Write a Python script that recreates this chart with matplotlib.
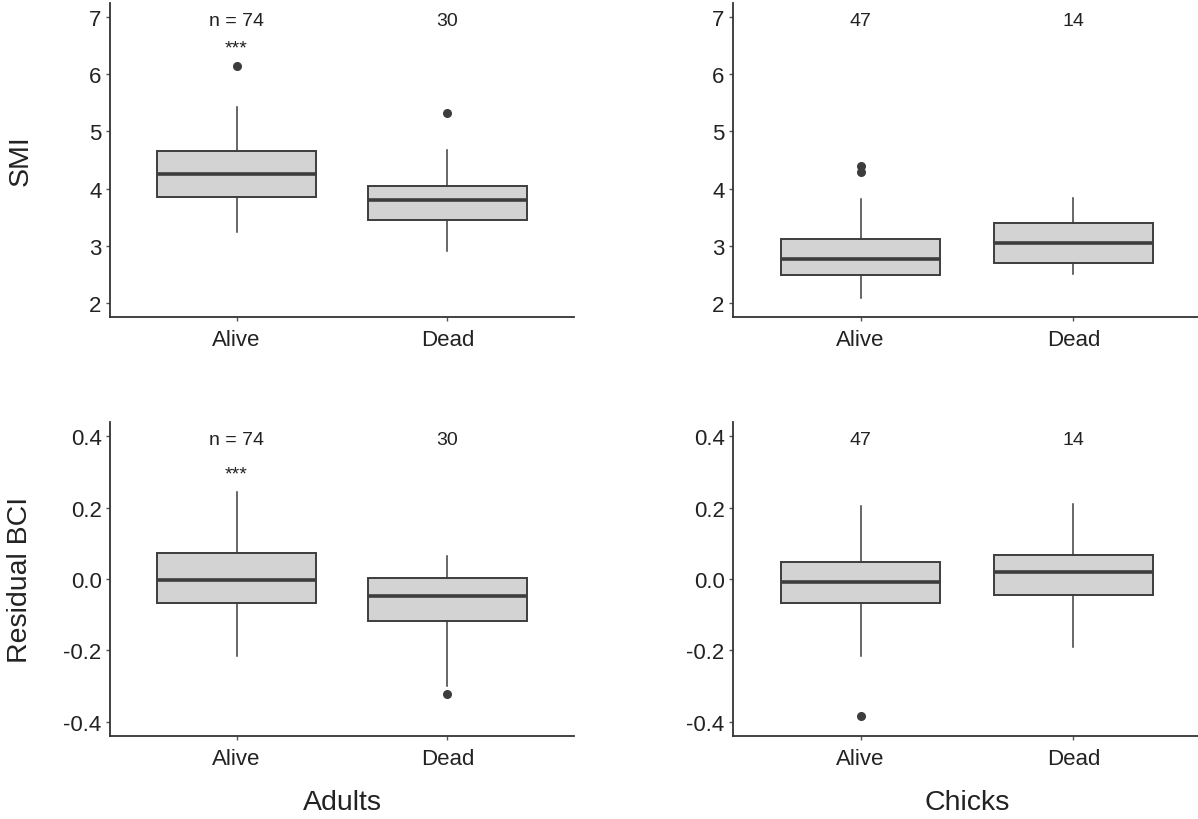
import matplotlib
matplotlib.use("Agg")
import matplotlib.pyplot as plt

plt.rcParams['font.family'] = ['Liberation Sans', 'DejaVu Sans']

groups = ["Alive", "Dead"]

# box summaries per group: whisker low, Q1, median, Q3, whisker high, outliers
smi_adults = {
    "Alive": [3.24, 3.86, 4.26, 4.66, 5.42, [6.14]],
    "Dead": [2.90, 3.45, 3.80, 4.05, 4.68, [5.32]],
}
smi_chicks = {
    "Alive": [2.08, 2.49, 2.77, 3.12, 3.81, [4.29, 4.40]],
    "Dead": [2.51, 2.70, 3.05, 3.40, 3.84, []],
}
bci_adults = {
    "Alive": [-0.216, -0.067, -0.003, 0.073, 0.244, []],
    "Dead": [-0.300, -0.118, -0.048, 0.003, 0.065, [-0.323]],
}
bci_chicks = {
    "Alive": [-0.216, -0.067, -0.008, 0.048, 0.205, [-0.385]],
    "Dead": [-0.190, -0.045, 0.020, 0.067, 0.210, []],
}

n_adults = ["n = 74", "30"]
n_chicks = ["47", "14"]

smi_ticks = [2, 3, 4, 5, 6, 7]
bci_ticks = [-0.4, -0.2, 0.0, 0.2, 0.4]

edge = "#3d3d3d"
txt = "#222222"


def draw_box(ax, summary, ylim, ticks, fmt):
    stats = []
    for g in groups:
        lo, q1, med, q3, hi, fl = summary[g]
        stats.append(dict(med=med, q1=q1, q3=q3, whislo=lo, whishi=hi,
                          fliers=fl, label=g))
    ax.bxp(stats, positions=[1, 2], widths=0.75, patch_artist=True,
           showcaps=False,
           boxprops=dict(facecolor="#d3d3d3", edgecolor=edge, linewidth=1.4),
           medianprops=dict(color=edge, linewidth=2.6),
           whiskerprops=dict(color=edge, linewidth=1.1),
           flierprops=dict(marker="o", markerfacecolor=edge, markeredgecolor=edge,
                           markersize=5.5))
    ax.set_xlim(0.4, 2.6)
    pad = (ylim[1] - ylim[0]) * 0.05
    ax.set_ylim(ylim[0] - pad, ylim[1] + pad)
    ax.set_yticks(ticks)
    ax.set_yticklabels([fmt.format(t) for t in ticks])
    ax.set_xticks([1, 2])
    ax.set_xticklabels(groups)
    for s in ["top", "right"]:
        ax.spines[s].set_visible(False)
    for s in ["left", "bottom"]:
        ax.spines[s].set_color("#333333")
        ax.spines[s].set_linewidth(1.3)
    ax.tick_params(axis="both", colors="#555555", labelcolor=txt, labelsize=16,
                   length=3, width=1)
    ax.tick_params(axis="x", pad=6)
    ax.tick_params(axis="y", pad=3)


fig = plt.figure(figsize=(11.98, 8.2), dpi=100)
W, H = 1198.0, 820.0


def add_ax(x0, y0, x1, y1):
    return fig.add_axes([x0 / W, 1 - y1 / H, (x1 - x0) / W, (y1 - y0) / H])


ax1 = add_ax(110, 4, 574, 318)
ax2 = add_ax(733, 4, 1201, 318)
ax3 = add_ax(110, 423, 574, 737)
ax4 = add_ax(733, 423, 1201, 737)

draw_box(ax1, smi_adults, (2, 7), smi_ticks, "{:g}")
draw_box(ax2, smi_chicks, (2, 7), smi_ticks, "{:g}")
draw_box(ax3, bci_adults, (-0.4, 0.4), bci_ticks, "{:.1f}")
draw_box(ax4, bci_chicks, (-0.4, 0.4), bci_ticks, "{:.1f}")

# sample sizes and significance stars
for ax, labels, ytop, ystar in [(ax1, n_adults, 6.95, 6.47), (ax2, n_chicks, 6.95, None),
                                (ax3, n_adults, 0.39, 0.295), (ax4, n_chicks, 0.39, None)]:
    for i, lab in enumerate(labels):
        ax.text(i + 1, ytop, lab, ha="center", va="center", fontsize=14, color=txt)
    if ystar is not None:
        ax.text(1, ystar, "***", ha="center", va="center", fontsize=14, color=txt)

for ax, lab in [(ax1, "SMI"), (ax3, "Residual BCI")]:
    ax.set_ylabel(lab, fontsize=20.5, color=txt)
    ax.yaxis.set_label_coords(-0.165, 0.5)

for ax, lab in [(ax3, "Adults"), (ax4, "Chicks")]:
    ax.set_xlabel(lab, fontsize=20.5, color=txt)
    ax.xaxis.set_label_coords(0.5, -0.17)

fig.savefig("out.png", dpi=100)
